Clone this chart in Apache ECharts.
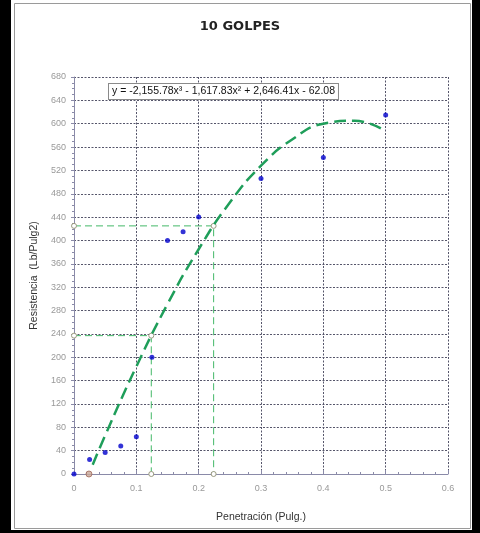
<!DOCTYPE html>
<html>
<head>
<meta charset="utf-8">
<script src="https://cdn.jsdelivr.net/npm/echarts@6/dist/echarts.min.js"></script>
<style>
html, body { margin: 0; padding: 0; background: #000; }
#chart { width: 480px; height: 533px; }
</style>
</head>
<body>
<div id="chart"></div>
<script>
// datos
var penetracion = [0, 0.025, 0.05, 0.075, 0.1, 0.125, 0.15, 0.175, 0.2, 0.3, 0.4, 0.5];
var resistencia = [0, 25, 37, 48, 64, 200, 400, 415, 440, 506, 542, 615];
// linea de tendencia (polinomio)
var curvaX = [0.03, 0.05, 0.1, 0.15, 0.2, 0.25, 0.3, 0.35, 0.4, 0.45, 0.5];
var curvaY = [16, 66, 184, 291, 385, 465, 528, 573, 600, 605, 587];
// lineas auxiliares
var guia1 = [[0, 237], [0.124, 237], [0.124, 0]];
var guia2 = [[0, 425], [0.224, 425], [0.224, 0]];
var ceroX = 0.024;
var ecuacion = 'y = -2,155.78x\u00b3 - 1,617.83x\u00b2 + 2,646.41x - 62.08';
var yTicks = { min: 0, max: 680, interval: 40 };
var xTicks = { min: 0, max: 0.6, interval: 0.1 };

var chart = echarts.init(document.getElementById('chart'));

function pares(xs, ys) {
	return xs.map(function (x, i) { return [x, ys[i]]; });
}

var gridLine = { show: true, lineStyle: { color: '#55556a', type: [2, 1.5], width: 1 } };

var option = {
	backgroundColor: '#000',
	animation: false,
	graphic: [
		{ type: 'rect', shape: { x: 11, y: 0, width: 461, height: 530 }, style: { fill: '#fff' }, z: -10 },
		{ type: 'rect', shape: { x: 14.5, y: 3.5, width: 456, height: 525 }, style: { fill: '#fff', stroke: '#9a9a9a', lineWidth: 1 }, z: -9 },
		{
			type: 'text', left: 108, top: 83, z: 100,
			style: {
				text: ecuacion, fill: '#111', fontSize: 10.5, fontFamily: 'Liberation Sans',
				backgroundColor: '#fff', borderColor: '#8a8a8a', borderWidth: 1, padding: [2, 3, 2, 3]
			}
		}
	],
	title: {
		text: '10 GOLPES',
		left: 'center',
		top: 15,
		textStyle: { fontSize: 13, fontWeight: 'bold', fontFamily: 'DejaVu Sans', color: '#222' }
	},
	grid: { left: 74, right: 32, top: 77, bottom: 59 },
	xAxis: {
		type: 'value',
		min: xTicks.min, max: xTicks.max, interval: xTicks.interval,
		name: 'Penetración (Pulg.)',
		nameLocation: 'middle',
		nameGap: 38,
		nameTextStyle: { fontSize: 10.5, color: '#333', fontFamily: 'Liberation Sans' },
		axisLine: { show: true, lineStyle: { color: '#8a8aa8' } },
		axisTick: { show: true, inside: true, length: 4, lineStyle: { color: '#8a8aa8' } },
		minorTick: { show: true, splitNumber: 5, length: 2, lineStyle: { color: '#8a8aa8' } },
		axisLabel: { fontSize: 9, color: '#999', margin: 10, fontFamily: 'Liberation Sans' },
		splitLine: gridLine
	},
	yAxis: {
		type: 'value',
		min: yTicks.min, max: yTicks.max, interval: yTicks.interval,
		name: 'Resistencia  (Lb/Pulg2)',
		nameLocation: 'middle',
		nameGap: 33,
		nameTextStyle: { fontSize: 10.5, color: '#333', fontFamily: 'Liberation Sans' },
		axisLine: { show: true, lineStyle: { color: '#8a8aa8' } },
		axisTick: { show: true, length: 3, lineStyle: { color: '#8a8aa8' } },
		minorTick: { show: true, splitNumber: 4, length: 2, lineStyle: { color: '#8a8aa8' } },
		axisLabel: { fontSize: 9, color: '#999', margin: 8, fontFamily: 'Liberation Sans' },
		splitLine: gridLine
	},
	series: [
		{
			name: 'guia1', type: 'line', data: guia1, symbol: 'circle', symbolSize: 5,
			itemStyle: { color: '#fff', borderColor: '#9a9a80', borderWidth: 1 },
			lineStyle: { color: '#44b868', width: 1, type: [7, 4] }, z: 3
		},
		{
			name: 'guia2', type: 'line', data: guia2, symbol: 'circle', symbolSize: 5,
			itemStyle: { color: '#fff', borderColor: '#9a9a80', borderWidth: 1 },
			lineStyle: { color: '#44b868', width: 1, type: [7, 4] }, z: 3
		},
		{
			name: 'tendencia', type: 'line', data: pares(curvaX, curvaY), smooth: true, showSymbol: false,
			lineStyle: { color: '#1f9e5a', width: 2.5, type: [12, 6] }, z: 4
		},
		{
			name: 'cero', type: 'scatter', data: [[ceroX, 0]], symbol: 'circle', symbolSize: 6,
			itemStyle: { color: '#c8a898', borderColor: '#a06858', borderWidth: 1 }, z: 5
		},
		{
			name: 'datos', type: 'scatter', data: pares(penetracion, resistencia), symbolSize: 5,
			itemStyle: { color: '#0000cc' }, z: 6
		}
	]
};

chart.setOption(option);
</script>
</body>
</html>
